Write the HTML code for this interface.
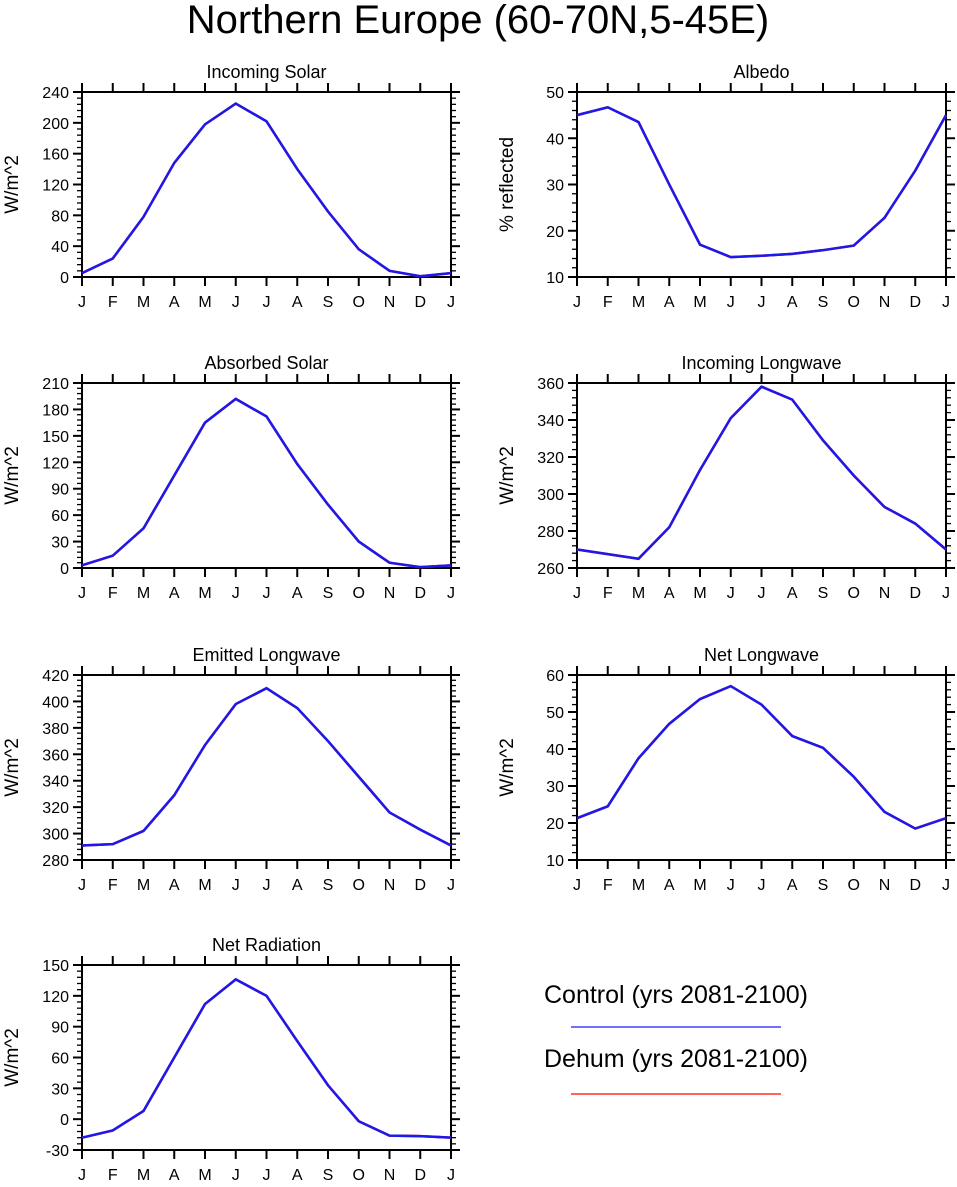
<!DOCTYPE html>
<html><head><meta charset="utf-8"><style>
body{margin:0;background:#fff}
svg{display:block;font-family:"Liberation Sans",Arial,sans-serif}
</style></head><body>
<svg id="c" width="957" height="1187">
<text x="478" y="33" font-size="40" text-anchor="middle">Northern Europe (60-70N,5-45E)</text>
<g>
<text x="676" y="1003" font-size="25" text-anchor="middle">Control (yrs 2081-2100)</text>
<line x1="571" x2="781" y1="1027" y2="1027" stroke="#1a1aff" stroke-width="1.2"/>
<text x="676" y="1067" font-size="25" text-anchor="middle">Dehum (yrs 2081-2100)</text>
<line x1="571" x2="781" y1="1094" y2="1094" stroke="#ff0000" stroke-width="1.2"/>
</g>
</svg>
<script>
const months=["J","F","M","A","M","J","J","A","S","O","N","D","J"];
const incomingSolar=[5,24,78,148,198,225,202,140,85,36,8,1,5];
const albedo=[45,46.7,43.5,30,17,14.3,14.6,15,15.8,16.8,22.8,33,45];
const absorbedSolar=[3,14,45,105,165,192,172,118,72,30,6,1,3];
const incomingLW=[270,267.5,265,282,313,341,358,351,329,310,293,284,270];
const emittedLW=[291,292,302,329,367,398,410,395,370,343,316,303,291];
const netLW=[21.3,24.5,37.5,46.8,53.5,57,52,43.5,40.3,32.5,23,18.5,21.3];
const netRad=[-18,-11,8,60,112,136,120,76,33,-2,-16,-16.5,-18];
const panels=[
 {name:"incoming-solar",title:"Incoming Solar",yl:"W/m^2",data:incomingSolar,min:0,max:240,step:40,col:0,row:0},
 {name:"albedo",title:"Albedo",yl:"% reflected",data:albedo,min:10,max:50,step:10,col:1,row:0},
 {name:"absorbed-solar",title:"Absorbed Solar",yl:"W/m^2",data:absorbedSolar,min:0,max:210,step:30,col:0,row:1},
 {name:"incoming-longwave",title:"Incoming Longwave",yl:"W/m^2",data:incomingLW,min:260,max:360,step:20,col:1,row:1},
 {name:"emitted-longwave",title:"Emitted Longwave",yl:"W/m^2",data:emittedLW,min:280,max:420,step:20,col:0,row:2},
 {name:"net-longwave",title:"Net Longwave",yl:"W/m^2",data:netLW,min:10,max:60,step:10,col:1,row:2},
 {name:"net-radiation",title:"Net Radiation",yl:"W/m^2",data:netRad,min:-30,max:150,step:30,col:0,row:3}
];
const svg=document.getElementById('c');const NS="http://www.w3.org/2000/svg";
function mk(t,a,p){const e=document.createElementNS(NS,t);for(const k in a)e.setAttribute(k,a[k]);p.appendChild(e);return e;}
const colX=[82,577],rowY=[92,383,675,965],W=369,H=185;
panels.forEach(p=>{
 const x0=colX[p.col],y0=rowY[p.row];
 const g=mk('g',{},svg);
 
 
 const sx=i=>x0+i*W/12, sy=v=>y0+H-(v-p.min)/(p.max-p.min)*H;
 const fr=mk('rect',{x:x0,y:y0,width:W,height:H,fill:'none',stroke:'#000','stroke-width':2},g);
 
 
 const t=mk('text',{x:x0+W/2,y:y0-14,'font-size':18,'text-anchor':'middle'},g);t.textContent=p.title;
 
 
 const yl=mk('text',{transform:`translate(${x0-64},${y0+H/2}) rotate(-90)`,'font-size':19,'text-anchor':'middle'},g);yl.textContent=p.yl;
 
 
 months.forEach((m,i)=>{
  const x=sx(i);
  mk('line',{x1:x,x2:x,y1:y0+H,y2:y0+H+9,stroke:'#000','stroke-width':2},g);
  mk('line',{x1:x,x2:x,y1:y0,y2:y0-9,stroke:'#000','stroke-width':2},g);
  const lt=mk('text',{x:x,y:y0+H+30,'font-size':16,'text-anchor':'middle'},g);lt.textContent=m;
  
  
 });
 const ms=p.step/5;
 for(let v=p.min;v<=p.max+1e-6;v+=ms){
  const y=sy(v);const maj=Math.abs(((v-p.min)/p.step)-Math.round((v-p.min)/p.step))<1e-6;
  const L=maj?9:5;
  mk('line',{x1:x0,x2:x0-L,y1:y,y2:y,stroke:'#000','stroke-width':maj?2:1.3},g);
  mk('line',{x1:x0+W,x2:x0+W+L,y1:y,y2:y,stroke:'#000','stroke-width':maj?2:1.3},g);
  if(maj){const lt=mk('text',{x:x0-13,y:y+6,'font-size':16,'text-anchor':'end'},g);lt.textContent=Math.round(v);
   
   }
 }
 const pts=p.data.map((v,i)=>sx(i)+','+sy(v)).join(' ');
 const r=mk('polyline',{points:pts,fill:'none',stroke:'#ff0000','stroke-width':2.5},g);
 
 
 const b=mk('polyline',{points:pts,fill:'none',stroke:'#1a1aee','stroke-width':2.5},g);
 
 
});
</script>
</body></html>
